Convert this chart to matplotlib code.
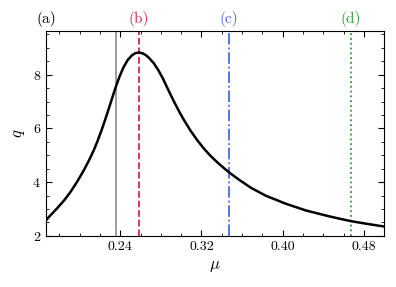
import numpy as np
import matplotlib
matplotlib.use("Agg")
import matplotlib.pyplot as plt
from matplotlib.ticker import MultipleLocator

plt.rcParams['font.family'] = 'serif'
plt.rcParams['font.serif'] = ['cmr10', 'DejaVu Serif']
plt.rcParams['mathtext.fontset'] = 'cm'
plt.rcParams['axes.formatter.use_mathtext'] = True

# curve
mu = [0.1667, 0.1676, 0.172, 0.178, 0.185, 0.1913, 0.198, 0.2044, 0.2095,
      0.2143, 0.2170, 0.2209, 0.2252, 0.230, 0.2351, 0.2395, 0.2433, 0.2475,
      0.2516, 0.2552, 0.2588, 0.2625, 0.2655, 0.268, 0.2730, 0.2778, 0.2820,
      0.2861, 0.2894, 0.2936, 0.298, 0.3025, 0.309, 0.3157, 0.3220, 0.3289,
      0.337, 0.347, 0.3575, 0.3684, 0.3832, 0.403, 0.4227, 0.4425, 0.455,
      0.4672, 0.483, 0.500]
q = [2.58, 2.62, 2.80, 3.04, 3.34, 3.66, 4.05, 4.47, 4.84,
     5.23, 5.48, 5.87, 6.34, 6.90, 7.50, 7.96, 8.29, 8.56,
     8.73, 8.81, 8.83, 8.79, 8.72, 8.64, 8.43, 8.15, 7.86,
     7.53, 7.27, 6.95, 6.63, 6.33, 5.93, 5.57, 5.27, 4.98,
     4.69, 4.37, 4.08, 3.80, 3.50, 3.20, 2.95, 2.76, 2.65,
     2.55, 2.45, 2.35]

# marker lines
mu_gray = 0.2358
mark_mu = [0.2585, 0.3473, 0.4672]
mark_lab = ['(b)', '(c)', '(d)']
mark_col = ['#d12a4e', '#4a6ae0', '#2e9a35']
mark_ls = ['--', '-.', ':']

fig = plt.figure(figsize=(3.96, 2.87), dpi=100)
ax = fig.add_axes([0.116, 0.178, 0.854, 0.714])

ax.axvline(mu_gray, color='#8c8c8c', lw=1.2)
for m, c, ls in zip(mark_mu, mark_col, mark_ls):
    ax.axvline(m, color=c, ls=ls, lw=1.3)
ax.plot(mu, q, color='black', lw=1.8, solid_joinstyle='round')

ax.set_xlim(0.1667, 0.5)
ax.set_ylim(2, 9.63)
ax.xaxis.set_major_locator(MultipleLocator(0.08))
ax.xaxis.set_minor_locator(MultipleLocator(0.02))
ax.yaxis.set_major_locator(MultipleLocator(2))
ax.yaxis.set_minor_locator(MultipleLocator(0.5))
ax.tick_params(which='both', direction='in', top=True, right=True, labelsize=10)
ax.tick_params(which='major', length=4)
ax.tick_params(which='minor', length=2)
ax.set_xticks([0.24, 0.32, 0.40, 0.48])
ax.set_xticklabels(['0.24', '0.32', '0.40', '0.48'])

ax.set_xlabel(r'$\mu$', fontsize=12)
ax.set_ylabel(r'$q$', fontsize=12)

ax.text(0.0, 1.02, '(a)', transform=ax.transAxes, ha='center', va='bottom', fontsize=11)
for m, c, lab in zip(mark_mu, mark_col, mark_lab):
    ax.text(m, 1.02, lab, transform=ax.get_xaxis_transform(), ha='center',
            va='bottom', color=c, fontsize=11)

fig.savefig('out.png', dpi=100)
